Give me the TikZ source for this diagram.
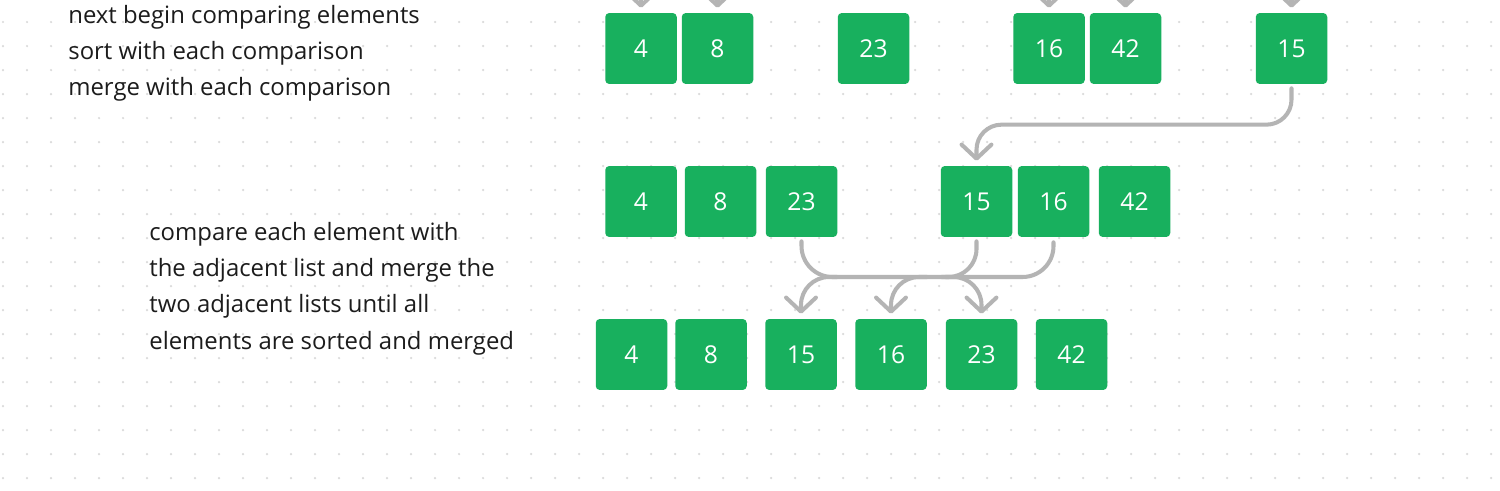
\documentclass[tikz,border=0pt]{standalone}
\usepackage{fontspec}
\setmainfont{Open Sans}
\usetikzlibrary{arrows.meta,calc}

\definecolor{boxgreen}{RGB}{24,176,94}
\definecolor{flowgray}{RGB}{180,180,180}
\definecolor{dotgray}{RGB}{218,218,218}
\definecolor{textdark}{RGB}{28,28,28}

\begin{document}
\begin{tikzpicture}[x=0.02cm, y=-0.02cm, >={Straight Barb[length=8pt,width=17pt,round]},
	num/.style={fill=boxgreen, text=white, rounded corners=0.08cm, minimum width=1.43cm, minimum height=1.42cm, inner sep=0pt, font=\fontsize{14}{16}\selectfont},
	flow/.style={draw=flowgray, line width=2.3pt, line cap=round, rounded corners=0.56cm, shorten <=0.08cm, shorten >=0.1cm},
	note/.style={text=textdark, align=left, inner sep=0pt, font=\fontsize{13.6}{20.6}\selectfont}]
	
	% page and clip
	\useasboundingbox (0,0) rectangle (1500,490);
	\clip (0,0) rectangle (1500,490);
	\fill[white] (0,0) rectangle (1500,490);
	
	% dot grid
	\foreach \i in {0,...,62}
	\foreach \j in {0,...,19}
	\fill[dotgray] (3+24*\i,22+24*\j) circle (0.025cm);
	
	% row heights
	\def\rowa{48.5}
	\def\rowb{201.5}
	\def\rowc{354.5}
	
	% first row (pairs)
	\node[num] (r1a) at (641,\rowa) {4};
	\node[num] (r1b) at (717.5,\rowa) {8};
	\node[num] (r1c) at (873.5,\rowa) {23};
	\node[num] (r1d) at (1049,\rowa) {16};
	\node[num] (r1e) at (1125.5,\rowa) {42};
	\node[num] (r1f) at (1291.5,\rowa) {15};
	
	% second row
	\node[num] (r2a) at (641,\rowb) {4};
	\node[num] (r2b) at (720.5,\rowb) {8};
	\node[num] (r2c) at (801.5,\rowb) {23};
	\node[num] (r2d) at (976.5,\rowb) {15};
	\node[num] (r2e) at (1053.5,\rowb) {16};
	\node[num] (r2f) at (1134.5,\rowb) {42};
	
	% third row (merged)
	\node[num] (r3a) at (631.5,\rowc) {4};
	\node[num] (r3b) at (711,\rowc) {8};
	\node[num] (r3c) at (801,\rowc) {15};
	\node[num] (r3d) at (891,\rowc) {16};
	\node[num] (r3e) at (981.5,\rowc) {23};
	\node[num] (r3f) at (1071.5,\rowc) {42};
	
	% arrows coming in from above
	\foreach \n in {r1a,r1b,r1d,r1e,r1f}
	\draw[flow, ->] ($(\n.north)+(0,-50)$) -- (\n.north);
	
	% 15 moves down to the second row
	\draw[flow, ->, rounded corners=0.5cm] (r1f.south) |- ($(r2d.north)+(0,-41)$) -- (r2d.north);
	
	% merge bus
	\coordinate (bus) at (0,277);
	\draw[flow, rounded corners=0.62cm] (r2c.south) |- (bus -| r2e.south) -- (r2e.south);
	\draw[flow] (r2d.south) |- ($(bus -| r2d.south)+(-40,0)$);
	
	% merged outputs
	\draw[flow, ->] ($(bus -| r3c.north)+(40,0)$) -| (r3c.north);
	\draw[flow, ->] ($(bus -| r3d.north)+(40,0)$) -| (r3d.north);
	\draw[flow, ->] ($(bus -| r3e.north)+(-40,0)$) -| (r3e.north);
	
	% notes
	\node[note, anchor=north west] (steps) at (68,5) {next begin comparing elements\\sort with each comparison\\merge with each comparison};
	\node[note, anchor=north west] (howto) at (149,222) {compare each element with\\the adjacent list and merge the\\two adjacent lists until all\\elements are sorted and merged};
\end{tikzpicture}
\end{document}
